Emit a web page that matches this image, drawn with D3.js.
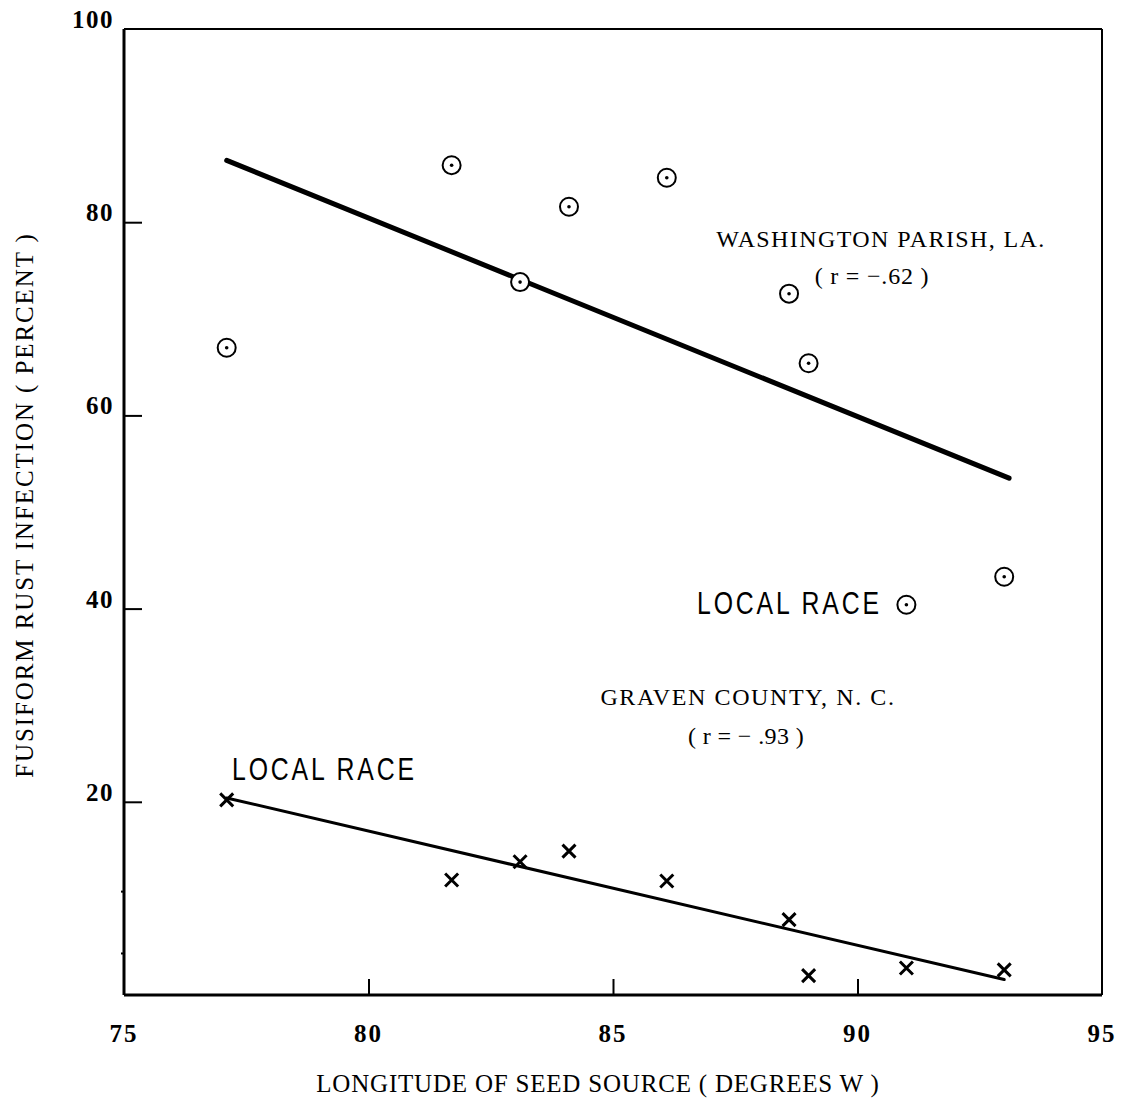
<!DOCTYPE html>
<html>
<head>
<meta charset="utf-8">
<script src="https://cdn.jsdelivr.net/npm/d3@7"></script>
<style>
  html, body { margin: 0; padding: 0; background: #fff; }
  svg { display: block; }
</style>
</head>
<body>
<svg id="chart" width="1122" height="1098"></svg>
<script>
// Longitude of each seed source (degrees W)
const longitudes = [77.1, 81.7, 83.1, 84.1, 86.1, 88.6, 89.0, 91.0, 93.0];
// Percent fusiform rust infection at each test site
const washingtonParish = [67.0, 85.9, 73.8, 81.6, 84.6, 72.6, 65.4, 40.4, 43.3];
const gravenCounty = [20.2, 11.9, 13.8, 14.9, 11.8, 7.8, 2.0, 2.8, 2.6];
// Fitted regression lines: [longitude, percent] endpoints
const washingtonFit = [[77.1, 86.4], [93.1, 53.5]];
const gravenFit = [[77.1, 20.4], [93.0, 1.6]];
// Axis ticks
const xTicks = [75, 80, 85, 90, 95];
const yTicks = [20, 40, 60, 80, 100];
const yMinorTicks = [4.3, 10.7];

const svg = d3.select("#chart");
const serif = "'Liberation Serif', 'Times New Roman', serif";
const sans = "'Liberation Sans', 'DejaVu Sans', sans-serif";

const x = d3.scaleLinear().domain([75, 95]).range([124, 1102]);
const y = d3.scaleLinear().domain([0, 100]).range([995, 29]);

// Frame: heavier bottom and left axes, lighter top and right
const frame = svg.append("g").attr("stroke", "#000").attr("fill", "none");
frame.append("line").attr("x1", x(75)).attr("x2", x(95)).attr("y1", y(100)).attr("y2", y(100)).attr("stroke-width", 2);
frame.append("line").attr("x1", x(95)).attr("x2", x(95)).attr("y1", y(100)).attr("y2", y(0)).attr("stroke-width", 2);

// Bottom axis with inward ticks
const xAxis = svg.append("g")
  .attr("transform", `translate(0,${y(0)})`)
  .call(d3.axisBottom(x).tickValues(xTicks.filter(d => d > 75 && d < 95)).tickSize(-16).tickFormat(""));
xAxis.select(".domain").attr("stroke-width", 3).attr("d", `M${x(75)},0H${x(95)}`);
xAxis.selectAll(".tick line").attr("stroke-width", 2);

// Left axis with inward ticks
const yAxis = svg.append("g")
  .attr("transform", `translate(${x(75)},0)`)
  .call(d3.axisLeft(y).tickValues(yTicks.filter(d => d < 100)).tickSize(-18).tickFormat(""));
yAxis.select(".domain").attr("stroke-width", 3).attr("d", `M0,${y(0)}V${y(100)}`);
yAxis.selectAll(".tick line").attr("stroke-width", 2);

// Small outward marks on the left axis
svg.append("g").selectAll("line").data(yMinorTicks).join("line")
  .attr("x1", x(75) - 3).attr("x2", x(75))
  .attr("y1", d => y(d)).attr("y2", d => y(d))
  .attr("stroke", "#000").attr("stroke-width", 2);

// Tick labels
svg.append("g").selectAll("text").data(xTicks).join("text")
  .attr("x", d => x(d)).attr("y", 1042)
  .attr("text-anchor", "middle")
  .attr("font-family", serif).attr("font-weight", "bold").attr("font-size", 25)
  .attr("letter-spacing", 2)
  .text(d => d);

svg.append("g").selectAll("text").data(yTicks).join("text")
  .attr("x", 114).attr("y", d => y(d) - 1)
  .attr("text-anchor", "end")
  .attr("font-family", serif).attr("font-weight", "bold").attr("font-size", 25)
  .attr("letter-spacing", 1.5)
  .text(d => d);

// Axis titles
svg.append("text")
  .attr("x", 598).attr("y", 1092)
  .attr("text-anchor", "middle")
  .attr("font-family", serif).attr("font-size", 25)
  .attr("letter-spacing", 0.8)
  .text("LONGITUDE OF SEED SOURCE ( DEGREES W )");

svg.append("text")
  .attr("transform", "translate(33,505) rotate(-90)")
  .attr("text-anchor", "middle")
  .attr("font-family", serif).attr("font-size", 25)
  .attr("letter-spacing", 1.9)
  .text("FUSIFORM RUST INFECTION ( PERCENT )");

// Regression lines
const line = d3.line().x(d => x(d[0])).y(d => y(d[1]));
svg.append("path").datum(washingtonFit).attr("d", line)
  .attr("fill", "none").attr("stroke", "#000").attr("stroke-width", 5).attr("stroke-linecap", "round");
svg.append("path").datum(gravenFit).attr("d", line)
  .attr("fill", "none").attr("stroke", "#000").attr("stroke-width", 3).attr("stroke-linecap", "round");

// Washington Parish points: circled dots
const wp = svg.append("g").selectAll("g")
  .data(longitudes.map((lon, i) => [lon, washingtonParish[i]]))
  .join("g")
  .attr("transform", d => `translate(${x(d[0])},${y(d[1])})`);
wp.append("circle").attr("r", 9).attr("fill", "#fff").attr("stroke", "#000").attr("stroke-width", 2);
wp.append("circle").attr("r", 1.8).attr("fill", "#000");

// Graven County points: crosses
svg.append("g").selectAll("path")
  .data(longitudes.map((lon, i) => [lon, gravenCounty[i]]))
  .join("path")
  .attr("transform", d => `translate(${x(d[0])},${y(d[1])})`)
  .attr("d", "M-6.5,-6.5L6.5,6.5M-6.5,6.5L6.5,-6.5")
  .attr("stroke", "#000").attr("stroke-width", 3).attr("fill", "none");

// Site annotations
const ann = svg.append("g").attr("fill", "#000");
ann.append("text").attr("x", 881).attr("y", 247).attr("text-anchor", "middle")
  .attr("font-family", serif).attr("font-size", 24).attr("letter-spacing", 1.4)
  .text("WASHINGTON PARISH, LA.");
ann.append("text").attr("x", 872).attr("y", 284).attr("text-anchor", "middle")
  .attr("font-family", serif).attr("font-size", 24).attr("letter-spacing", 0.8)
  .text("( r = −.62 )");
ann.append("text").attr("x", 748).attr("y", 705).attr("text-anchor", "middle")
  .attr("font-family", serif).attr("font-size", 24).attr("letter-spacing", 1.6)
  .text("GRAVEN COUNTY, N. C.");
ann.append("text").attr("x", 746).attr("y", 744).attr("text-anchor", "middle")
  .attr("font-family", serif).attr("font-size", 24).attr("letter-spacing", 0.4)
  .text("( r = − .93 )");

// Local-race labels in narrow lettering
const localRace = [[697, 614], [232, 780]];
ann.selectAll("text.local").data(localRace).join("text")
  .attr("class", "local")
  .attr("transform", d => `translate(${d[0]},${d[1]}) scale(0.8,1)`)
  .attr("font-family", sans).attr("font-size", 31).attr("letter-spacing", 3.6)
  .text("LOCAL RACE");
</script>
</body>
</html>
